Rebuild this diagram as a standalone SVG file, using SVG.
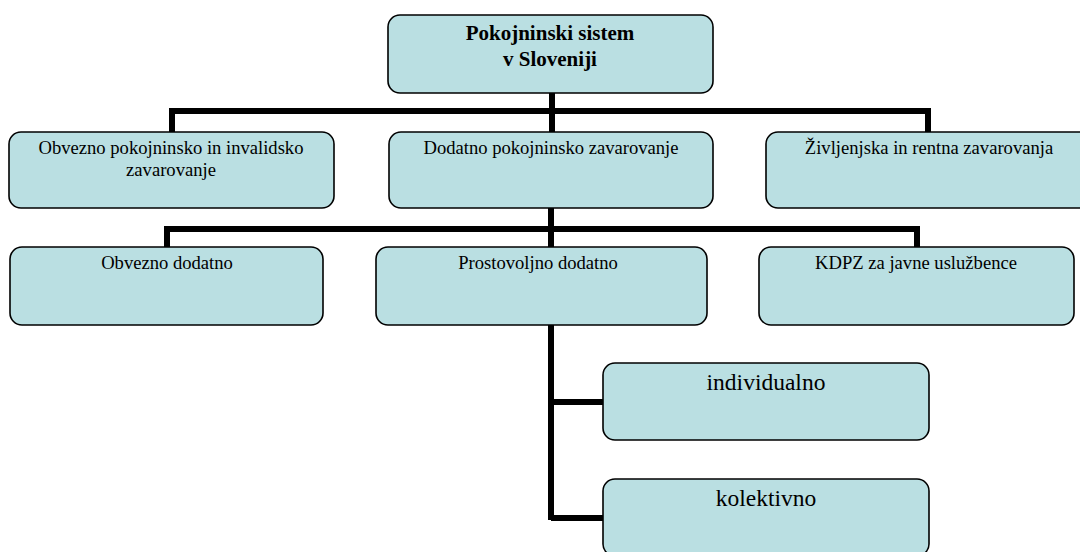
<svg xmlns="http://www.w3.org/2000/svg" width="1080" height="552" viewBox="0 0 1080 552">
<style>
.box{fill:#BADFE2;stroke:#000;stroke-width:1.6}
.t{font-family:"Liberation Serif","Times New Roman",serif;fill:#000;text-anchor:middle}
.s1{font-size:18.6px}
.s2{font-size:23.5px}
.b{font-size:21px;font-weight:bold}
.c{fill:none;stroke:#000;stroke-width:6;stroke-linejoin:miter;stroke-linecap:butt}
</style>
<rect width="1080" height="552" fill="#fff"/>
<g id="connectors">
<path class="c" d="M552,93 V111 M172,132 V111 H928 V132 M552,111 V132"/>
<path class="c" d="M551,208 V520 M167,247 V229 H917 V247"/>
<path class="c" d="M551,402 H603 M551,518 H603"/>
</g>
<g id="n-root">
<rect class="box" x="388" y="15" width="325" height="78" rx="12"/>
<text class="t b" x="550" y="40">Pokojninski sistem</text>
<text class="t b" x="550" y="66">v Sloveniji</text>
</g>
<g id="n-obvezno-pokojninsko">
<rect class="box" x="9" y="132" width="325" height="76" rx="12"/>
<text class="t s1" x="171" y="154">Obvezno pokojninsko in invalidsko</text>
<text class="t s1" x="171" y="176">zavarovanje</text>
</g>
<g id="n-dodatno">
<rect class="box" x="389" y="132" width="324" height="76" rx="12"/>
<text class="t s1" x="551" y="154">Dodatno pokojninsko zavarovanje</text>
</g>
<g id="n-zivljenjska">
<rect class="box" x="766" y="132" width="326" height="76" rx="12"/>
<text class="t s1" x="929" y="154">Življenjska in rentna zavarovanja</text>
</g>
<g id="n-obvezno-dodatno">
<rect class="box" x="10" y="247" width="313" height="78" rx="12"/>
<text class="t s1" x="167" y="269">Obvezno dodatno</text>
</g>
<g id="n-prostovoljno">
<rect class="box" x="376" y="247" width="331" height="78" rx="12"/>
<text class="t s1" x="538" y="269">Prostovoljno dodatno</text>
</g>
<g id="n-kdpz">
<rect class="box" x="759" y="247" width="315" height="78" rx="12"/>
<text class="t s1" x="916" y="269">KDPZ za javne uslužbence</text>
</g>
<g id="n-individualno">
<rect class="box" x="603" y="363" width="326" height="77" rx="12"/>
<text class="t s2" x="766" y="390">individualno</text>
</g>
<g id="n-kolektivno">
<rect class="box" x="603" y="479" width="326" height="77" rx="12"/>
<text class="t s2" x="766" y="506">kolektivno</text>
</g>
</svg>
